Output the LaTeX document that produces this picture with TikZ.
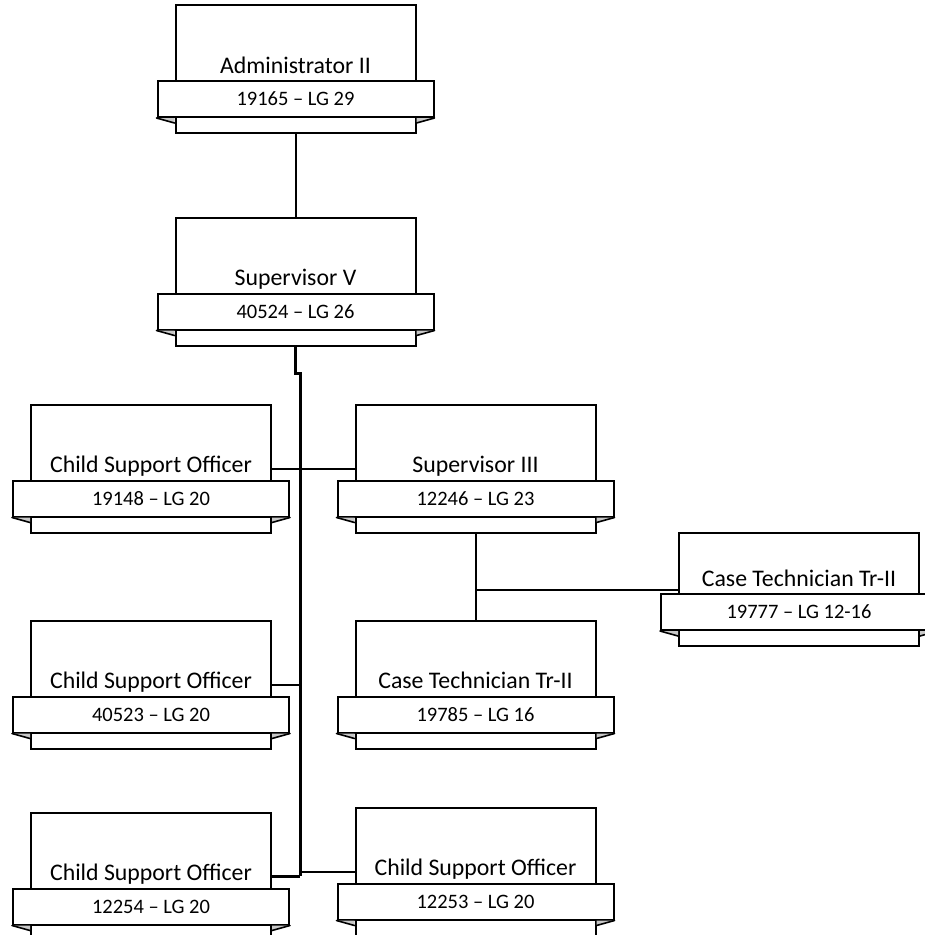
\documentclass[tikz,border=0pt]{standalone}
\usepackage{fontspec}
\setmainfont{Carlito}
\usetikzlibrary{calc}

\definecolor{foldgray}{RGB}{200,200,200}

\tikzset{
  jobframe/.style={draw, fill=white, line width=2pt, inner sep=0pt, minimum width=240pt},
  jobband/.style={draw, fill=white, line width=2pt, inner sep=0pt, minimum width=276pt, minimum height=36pt,
    font=\fontsize{20.5}{24}\selectfont},
  jobfold/.style={line width=1.6pt, line cap=round},
  jobtitle/.style={inner sep=0pt, font=\fontsize{23.8}{28}\selectfont},
  link/.style={line width=2pt},
  trunk/.style={line width=3pt}
}

% box with title, ribbon below and folded ribbon ends
\newcommand{\jobbox}[5][128]{%
  \node[jobframe, minimum height=#1] (#2) at (#3) {};
  \node[jobband] (#2-b) at ($(#2.south)+(0,-35)$) {#5};
  \fill[foldgray] (#2-b.south west) -- ++(18,5) -- ++(0,-5) -- cycle;
  \fill[foldgray] (#2-b.south east) -- ++(-18,5) -- ++(0,-5) -- cycle;
  \draw[jobfold] (#2-b.south west) -- ++(18,5);
  \draw[jobfold] (#2-b.south east) -- ++(-18,5);
  \node[jobtitle, anchor=base] (#2-t) at ($(#2-b.north)+(0,-7)$) {#4};
}

\begin{document}
\begin{tikzpicture}[x=1pt, y=-1pt]
  \useasboundingbox (0,0) rectangle (925,935);

  \jobbox{adm}{295.5,69}{Administrator II}{19165 – LG 29}
  \jobbox{supv}{295.5,281.5}{Supervisor V}{40524 – LG 26}
  \jobbox{cso1}{151,468.5}{Child Support Officer}{19148 – LG 20}
  \jobbox{sup3}{475.5,468.5}{Supervisor III}{12246 – LG 23}
  \jobbox[113]{ct2}{799,589.5}{Case Technician Tr-II}{19777 – LG 12-16}
  \jobbox{cso2}{151,684.5}{Child Support Officer}{40523 – LG 20}
  \jobbox{ct1}{475.5,684.5}{Case Technician Tr-II}{19785 – LG 16}
  \jobbox{cso3}{151,876.5}{Child Support Officer}{12254 – LG 20}
  \jobbox{cso4}{475.5,871.5}{Child Support Officer}{12253 – LG 20}

  \coordinate (tr) at (300,876);

  \draw[link] (adm.south) -- (supv.north);
  \draw[trunk] (supv.south) -- ++(0,27) -| (tr);
  \draw[link] (cso1.east) -- (sup3.west);
  \draw[link] (cso2.east) -- (cso2.east -| tr);
  \draw[trunk] (cso3.east) -- (cso3.east -| tr);
  \draw[link] (cso4.west) -- (cso4.west -| tr);
  \draw[link] (sup3.south) -- (ct1.north);
  \draw[link] (ct2.west) -- (ct2.west -| sup3.south);
\end{tikzpicture}
\end{document}
